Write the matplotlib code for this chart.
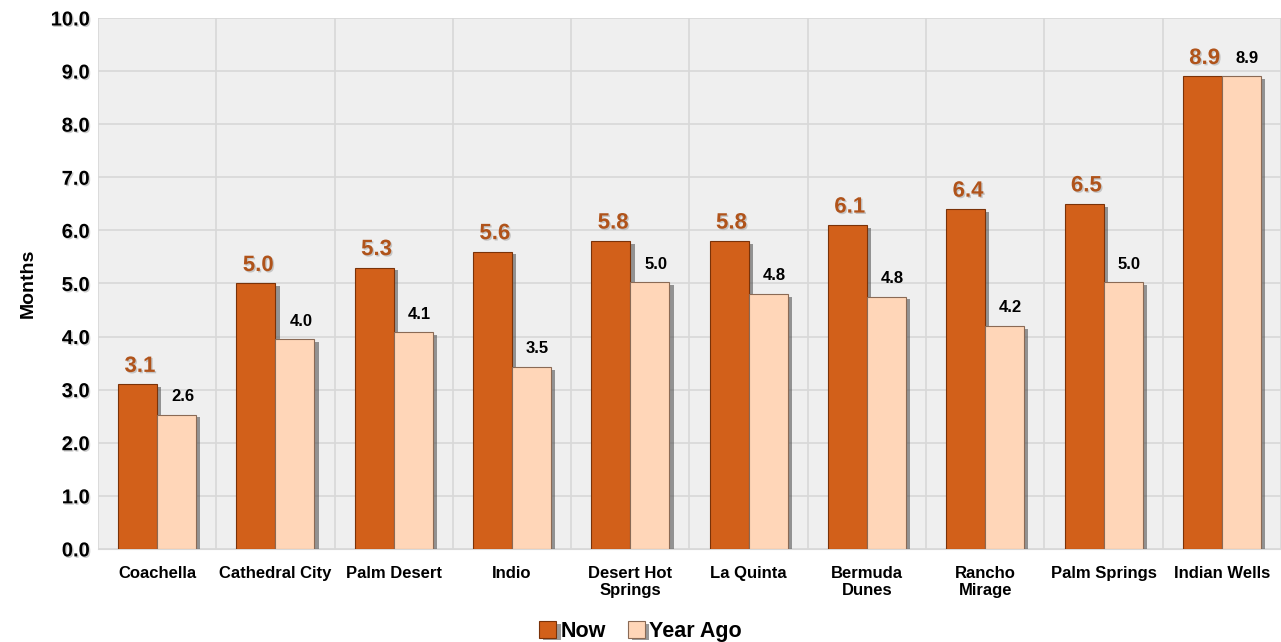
import matplotlib
matplotlib.use("Agg")
import matplotlib.pyplot as plt
import matplotlib.patheffects as pe
import numpy as np

plt.rcParams["font.family"] = ["Liberation Sans", "DejaVu Sans"]

cities = ["Coachella", "Cathedral City", "Palm Desert", "Indio", "Desert Hot\nSprings",
          "La Quinta", "Bermuda\nDunes", "Rancho\nMirage", "Palm Springs", "Indian Wells"]
now = [3.1, 5.0, 5.3, 5.6, 5.8, 5.8, 6.1, 6.4, 6.5, 8.9]
year_ago = [2.53, 3.95, 4.08, 3.43, 5.02, 4.8, 4.75, 4.2, 5.02, 8.9]
year_ago_labels = ["2.6", "4.0", "4.1", "3.5", "5.0", "4.8", "4.8", "4.2", "5.0", "8.9"]

now_color = "#d2601a"
ya_color = "#ffd6b8"
label_brown = "#b0531a"

shadow = [pe.SimplePatchShadow(offset=(3, -2), shadow_rgbFace="#555555", alpha=0.6), pe.Normal()]
txt_shadow = [pe.withSimplePatchShadow(offset=(1, -1), shadow_rgbFace="#aaaaaa", alpha=0.6)]

fig = plt.figure(figsize=(12.81, 6.42), dpi=100)
ax = fig.add_axes([0.0765, 0.145, 0.9235, 0.827])
ax.set_facecolor("#efefef")

x = np.arange(len(cities))
w = 0.33
b1 = ax.bar(x - w / 2, now, w, color=now_color, edgecolor="#7a3208", linewidth=0.8, label="Now", zorder=3)
b2 = ax.bar(x + w / 2, year_ago, w, color=ya_color, edgecolor="#8a6a55", linewidth=0.8, label="Year Ago", zorder=3)
for b in list(b1) + list(b2):
    b.set_path_effects(shadow)

for i in range(len(cities)):
    t = ax.text(x[i] - w / 2 + 0.02, now[i] + 0.14, f"{now[i]:.1f}", ha="center", va="bottom",
                fontsize=16, fontweight="bold", color=label_brown, zorder=4)
    t.set_path_effects(txt_shadow)
    ax.text(x[i] + w / 2 + 0.05, year_ago[i] + 0.2, year_ago_labels[i], ha="center", va="bottom",
            fontsize=12, fontweight="bold", color="black", zorder=4)

ax.set_xlim(-0.5, len(cities) - 0.5)
ax.set_ylim(0, 10)
ax.set_yticks(np.arange(0, 10.01, 1))
ytl = ax.set_yticklabels([f"{v:.1f}" for v in np.arange(0, 10.01, 1)], fontsize=14.5, fontweight="bold")
for t in ytl:
    t.set_path_effects(txt_shadow)
ax.set_xticks(x)
ax.set_xticklabels(cities, fontsize=12, fontweight="bold", linespacing=1.2)
ax.set_xticks(np.arange(-0.5, len(cities), 1), minor=True)
ax.tick_params(axis="both", which="both", length=0)
ax.tick_params(axis="x", pad=12)
ax.tick_params(axis="y", pad=6)
ax.grid(axis="y", color="#d8d8d8", linewidth=1.2, zorder=0)
ax.grid(axis="x", which="minor", color="#d8d8d8", linewidth=1.2, zorder=0)
ax.grid(axis="x", which="major", visible=False)
for s in ax.spines.values():
    s.set_visible(False)
ax.spines["bottom"].set_visible(True)
ax.spines["bottom"].set_color("#d8d8d8")

ax.set_ylabel("Months", fontsize=14, fontweight="bold", labelpad=10)

leg = fig.legend(loc="lower center", bbox_to_anchor=(0.5, -0.03), ncol=2, frameon=False,
                 prop={"size": 15.5, "weight": "bold"}, handlelength=0.8, handleheight=0.8,
                 handletextpad=0.2, columnspacing=1.0)

fig.savefig("out.png", dpi=100)
